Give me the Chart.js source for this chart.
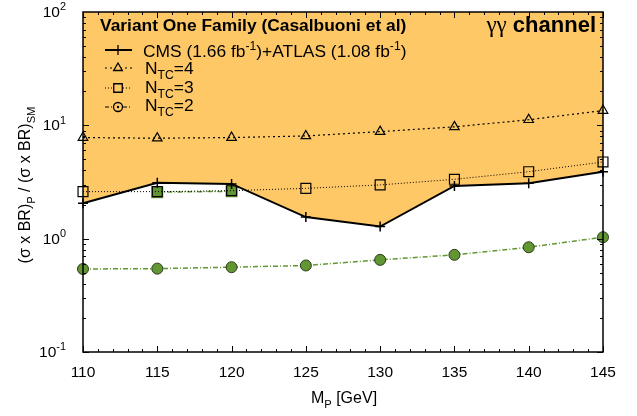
<!DOCTYPE html>
<html>
<head>
<meta charset="utf-8">
<script src="https://cdn.jsdelivr.net/npm/chart.js@4.4.0/dist/chart.umd.min.js"></script>
<style>
  html, body { margin: 0; padding: 0; background: #fff; }
</style>
</head>
<body>
<canvas id="chart" width="637" height="416"></canvas>
<script>
// data
const masses = [110, 115, 120, 125, 130, 135, 140, 145];
const cmsAtlas = [2.05, 3.12, 3.04, 1.55, 1.28, 2.92, 3.08, 3.9];
const ntc4 = [7.8, 7.7, 7.8, 8.06, 8.8, 9.7, 11.2, 13.5];
const ntc3 = [2.6, 2.6, 2.65, 2.78, 2.98, 3.34, 3.9, 4.75];
const ntc2 = [0.54, 0.544, 0.56, 0.58, 0.65, 0.72, 0.84, 1.03];
const excludedMasses = [115, 120];
const excludedVals = [2.57, 2.62];
const xTickLabels = [110, 115, 120, 125, 130, 135, 140, 145];
const yDecades = [0.1, 1, 10, 100];
const yExponents = ["-1", "0", "1", "2"];

const FONT = '"Liberation Sans", Arial, sans-serif';
const ORANGE = "rgb(254,200,102)";
const GREEN = "rgb(98,150,50)";

const pts = (xs, ys) => xs.map((x, i) => ({ x: x, y: ys[i] }));

// draws text with sub/superscript parts, y is the baseline
function rich(ctx, parts, x, y, size, align, bold) {
  const b = bold ? "bold " : "";
  let w = 0;
  parts.forEach((p) => {
    ctx.font = b + (p.sub || p.sup ? size * 0.7 : size) + "px " + FONT;
    w += ctx.measureText(p.t).width;
  });
  let cx = align === "center" ? x - w / 2 : align === "right" ? x - w : x;
  ctx.textAlign = "left";
  ctx.textBaseline = "alphabetic";
  parts.forEach((p) => {
    ctx.font = b + (p.sub || p.sup ? size * 0.7 : size) + "px " + FONT;
    let dy = p.sub ? size * 0.3 : p.sup ? -size * 0.42 : 0;
    ctx.fillText(p.t, cx, y + dy);
    cx += ctx.measureText(p.t).width;
  });
}

const frame = {
  id: "frame",
  afterDraw(chart) {
    const ctx = chart.ctx;
    const a = chart.chartArea;
    const xs = chart.scales.x;
    const ys = chart.scales.y;
    ctx.save();
    ctx.strokeStyle = "#000";
    ctx.fillStyle = "#000";
    ctx.lineWidth = 1;
    // x ticks, every 1 GeV, inside on bottom and top
    for (let v = 110; v <= 145; v++) {
      const px = Math.round(xs.getPixelForValue(v)) + 0.5;
      const len = v % 5 === 0 ? 6 : 3;
      ctx.beginPath();
      ctx.moveTo(px, a.bottom); ctx.lineTo(px, a.bottom - len);
      ctx.moveTo(px, a.top); ctx.lineTo(px, a.top + len);
      ctx.stroke();
    }
    // y ticks on log scale
    for (let d = 0; d < 3; d++) {
      for (let m = 1; m <= 9; m++) {
        const v = yDecades[d] * m;
        const py = Math.round(ys.getPixelForValue(v)) + 0.5;
        const len = m === 1 ? 6 : 3;
        ctx.beginPath();
        ctx.moveTo(a.left, py); ctx.lineTo(a.left + len, py);
        ctx.moveTo(a.right, py); ctx.lineTo(a.right - len, py);
        ctx.stroke();
      }
    }
    // frame
    ctx.lineWidth = 1.5;
    ctx.strokeRect(a.left, a.top, a.right - a.left, a.bottom - a.top);

    // tick labels
    ctx.font = "15.5px " + FONT;
    ctx.textAlign = "center";
    ctx.textBaseline = "alphabetic";
    xTickLabels.forEach((v) => {
      ctx.fillText(String(v), xs.getPixelForValue(v), a.bottom + 25);
    });
    yDecades.forEach((v, i) => {
      rich(ctx, [{ t: "10" }, { t: yExponents[i], sup: true }],
        66, ys.getPixelForValue(v) + 5, 15.5, "right");
    });

    // axis titles
    rich(ctx, [{ t: "M" }, { t: "P", sub: true }, { t: " [GeV]" }], 344, 403, 16, "center");
    ctx.save();
    ctx.translate(30, 185);
    ctx.rotate(-Math.PI / 2);
    rich(ctx, [{ t: "(\u03c3 x BR)" }, { t: "P", sub: true }, { t: " / (\u03c3 x BR)" }, { t: "SM", sub: true }],
      0, 0, 16, "center");
    ctx.restore();

    // channel label
    ctx.font = "bold 22px " + FONT;
    const chW = ctx.measureText(" channel").width;
    ctx.textAlign = "right";
    ctx.fillText(" channel", 596, 32);
    ctx.font = '23px "Liberation Serif", serif';
    ctx.fillText("\u03b3\u03b3", 596 - chW, 32);

    // legend
    ctx.textAlign = "left";
    ctx.font = "bold 17.4px " + FONT;
    ctx.fillText("Variant One Family (Casalbuoni et al)", 100, 31);
    const rows = [
      { ds: 0, y: 50, base: 57, dash: [], style: "cross", r: 5, parts: [{ t: "CMS (1.66 fb" }, { t: "-1", sup: true }, { t: ")+ATLAS (1.08 fb" }, { t: "-1", sup: true }, { t: ")" }] },
      { ds: 1, y: 68, base: 74, dash: [2, 3], style: "triangle", r: 5, parts: [{ t: "N" }, { t: "TC", sub: true }, { t: "=4" }] },
      { ds: 2, y: 88, base: 93, dash: [1, 2], style: "rect", r: 6, parts: [{ t: "N" }, { t: "TC", sub: true }, { t: "=3" }] },
      { ds: 3, y: 107, base: 111, dash: [4, 2, 1, 2], style: "circle", r: 4.5, parts: [{ t: "N" }, { t: "TC", sub: true }, { t: "=2" }] },
    ];
    rows.forEach((r) => {
      ctx.save();
      ctx.strokeStyle = "#000";
      ctx.lineWidth = r.ds === 0 ? 2 : 1.2;
      ctx.setLineDash(r.dash);
      ctx.beginPath();
      ctx.moveTo(105, r.y); ctx.lineTo(132, r.y);
      ctx.stroke();
      ctx.setLineDash([]);
      ctx.fillStyle = ORANGE;
      ctx.lineWidth = 1.3;
      Chart.helpers.drawPoint(ctx, { pointStyle: r.style, radius: r.r, rotation: 0, borderWidth: 1.3 }, 118, r.y);
      if (r.ds === 3) {
        ctx.fillStyle = "#000";
        ctx.beginPath(); ctx.arc(118, r.y, 1.2, 0, Math.PI * 2); ctx.fill();
      }
      ctx.restore();
      ctx.fillStyle = "#000";
      rich(ctx, r.parts, r.ds === 0 ? 143 : 145, r.base, 17.4, "left");
    });
    ctx.restore();
  },
};

new Chart(document.getElementById("chart"), {
  type: "line",
  data: {
    datasets: [
      {
        label: "CMS+ATLAS",
        data: pts(masses, cmsAtlas),
        borderColor: "#000",
        borderWidth: 2,
        pointStyle: "cross",
        pointRadius: 5,
        pointBorderWidth: 1.5,
        pointBorderColor: "#000",
        pointBackgroundColor: "#000",
        fill: "end",
        backgroundColor: ORANGE,
        tension: 0,
        clip: false,
      },
      {
        label: "NTC=4",
        data: pts(masses, ntc4),
        borderColor: "#000",
        borderWidth: 1.2,
        borderDash: [2, 3],
        pointStyle: "triangle",
        pointRadius: 5.5,
        pointBorderWidth: 1.2,
        pointBorderColor: "#000",
        pointBackgroundColor: "rgba(0,0,0,0)",
        fill: false,
        clip: false,
      },
      {
        label: "NTC=3",
        data: pts(masses, ntc3),
        borderColor: "#000",
        borderWidth: 1,
        borderDash: [1, 2],
        pointStyle: "rect",
        pointRadius: 7,
        pointBorderWidth: 1.2,
        pointBorderColor: "#000",
        pointBackgroundColor: "rgba(0,0,0,0)",
        fill: false,
        clip: false,
      },
      {
        label: "NTC=2",
        data: pts(masses, ntc2),
        borderColor: GREEN,
        borderWidth: 1.5,
        borderDash: [5, 2, 1, 2],
        pointStyle: "circle",
        pointRadius: 5.5,
        pointBorderWidth: 1,
        pointBorderColor: "#2a3a1a",
        pointBackgroundColor: GREEN,
        fill: false,
        clip: false,
      },
      {
        label: "excluded",
        data: pts(excludedMasses, excludedVals),
        borderColor: GREEN,
        borderWidth: 1.5,
        borderDash: [5, 2, 1, 2],
        pointStyle: "rect",
        pointRadius: 8.5,
        pointBorderWidth: 0,
        pointBorderColor: GREEN,
        pointBackgroundColor: GREEN,
        fill: false,
        clip: false,
      },
    ],
  },
  options: {
    responsive: false,
    animation: false,
    devicePixelRatio: 1,
    layout: { padding: { left: 83, right: 34, top: 12, bottom: 64 } },
    scales: {
      x: { type: "linear", min: 110, max: 145, display: false },
      y: { type: "logarithmic", min: 0.1, max: 100, display: false },
    },
    plugins: {
      legend: { display: false },
      tooltip: { enabled: false },
      filler: { drawTime: "beforeDatasetsDraw" },
    },
  },
  plugins: [frame],
});
</script>
</body>
</html>
